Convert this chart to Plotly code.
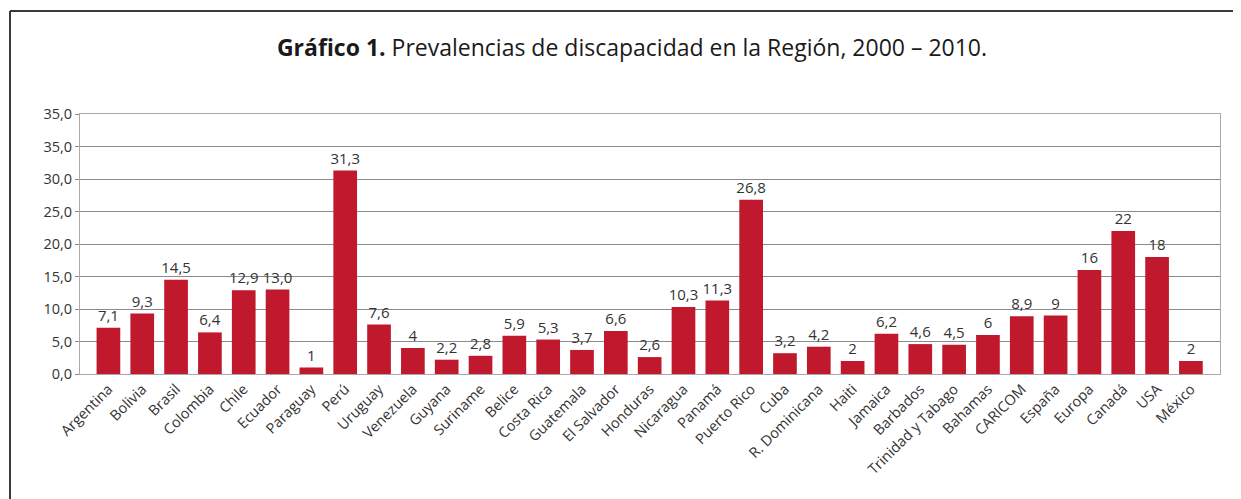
import plotly.graph_objects as go

categories = ["Argentina", "Bolivia", "Brasil", "Colombia", "Chile", "Ecuador", "Paraguay", "Perú",
              "Uruguay", "Venezuela", "Guyana", "Suriname", "Belice", "Costa Rica", "Guatemala",
              "El Salvador", "Honduras", "Nicaragua", "Panamá", "Puerto Rico", "Cuba",
              "R. Dominicana", "Haiti", "Jamaica", "Barbados", "Trinidad y Tabago", "Bahamas",
              "CARICOM", "España", "Europa", "Canadá", "USA", "México"]
values = [7.1, 9.3, 14.5, 6.4, 12.9, 13.0, 1, 31.3, 7.6, 4, 2.2, 2.8, 5.9, 5.3, 3.7, 6.6, 2.6,
          10.3, 11.3, 26.8, 3.2, 4.2, 2, 6.2, 4.6, 4.5, 6, 8.9, 9, 16, 22, 18, 2]
labels = ["7,1", "9,3", "14,5", "6,4", "12,9", "13,0", "1", "31,3", "7,6", "4", "2,2", "2,8",
          "5,9", "5,3", "3,7", "6,6", "2,6", "10,3", "11,3", "26,8", "3,2", "4,2", "2", "6,2",
          "4,6", "4,5", "6", "8,9", "9", "16", "22", "18", "2"]
y_tickvals = [0, 5, 10, 15, 20, 25, 30, 35, 40]
y_ticktext = ["0,0", "5,0", "10,0", "15,0", "20,0", "25,0", "30,0", "35,0", "35,0"]

# page body has an 8px margin; compensate so the picture lines up with the window
OFF = 8
W, H = 1241 - OFF, 499 - OFF
L, R, T, B = 80 - OFF, 21, 114 - OFF, 125
pw, ph = W - L - R, H - T - B

def px_x(p):
    return (p - OFF - L) / pw

def px_y(p):
    return (H - B - (p - OFF)) / ph

fig = go.Figure(go.Bar(
    x=categories, y=values, text=labels, textposition="outside",
    constraintext="none",
    textfont=dict(size=15, color="#333333", family="Open Sans"),
    marker=dict(color="#C0182D", line=dict(width=0)),
    width=0.7, cliponaxis=False,
))

fig.update_layout(
    width=W, height=H,
    margin=dict(l=L, r=R, t=T, b=B),
    paper_bgcolor="white", plot_bgcolor="white",
    showlegend=False,
    font=dict(family="Open Sans", color="#333333"),
    title=dict(
        text="<b>Gráfico 1.</b> Prevalencias de discapacidad en la Región, 2000 – 2010.",
        x=(632 - OFF) / W, xanchor="center", y=1 - (48 - OFF) / H, yanchor="middle",
        font=dict(size=23, color="#1a1a1a", family="Open Sans"),
    ),
    xaxis=dict(
        type="category", range=[-0.84, 32.86], tickangle=-45,
        tickfont=dict(size=14.5, color="#333333"),
        showline=True, linecolor="#aaaaaa", linewidth=1, mirror=True,
        showgrid=False, ticks="",
    ),
    yaxis=dict(
        range=[0, 40], tickvals=y_tickvals, ticktext=y_ticktext,
        tickfont=dict(size=14.5, color="#333333"),
        showgrid=True, gridcolor="#8a8a8a", gridwidth=1,
        showline=True, linecolor="#aaaaaa", linewidth=1, mirror=True,
        ticks="outside", ticklen=4, tickcolor="#8a8a8a",
        zeroline=False,
    ),
)

border_color = "#3a3a3a"
fig.add_shape(type="line", xref="paper", yref="paper",
              x0=px_x(10), x1=px_x(1241 + 20), y0=px_y(11), y1=px_y(11),
              line=dict(color=border_color, width=2))
fig.add_shape(type="line", xref="paper", yref="paper",
              x0=px_x(10), x1=px_x(10), y0=px_y(11), y1=px_y(499 + 20),
              line=dict(color=border_color, width=2))

fig.write_html("out.html")
